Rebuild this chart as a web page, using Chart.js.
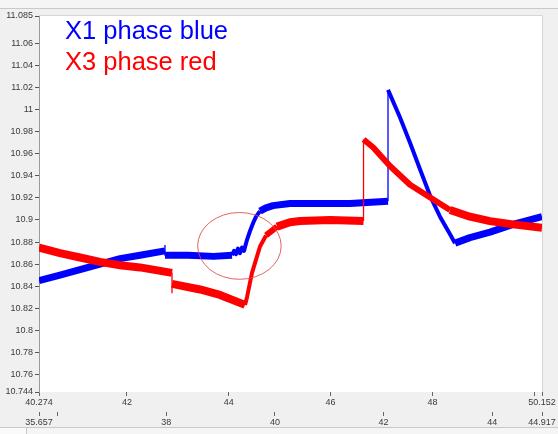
<!DOCTYPE html>
<html>
<head>
<meta charset="utf-8">
<script src="https://cdn.jsdelivr.net/npm/chart.js@4"></script>
<style>
  html, body { margin: 0; padding: 0; background: #f0f0f0; }
  #wrap { position: relative; width: 558px; height: 434px; overflow: hidden; }
  #topBar { position: absolute; left: 0; top: 0; width: 558px; height: 8px; background: #f5f5f5; border-bottom: 1px solid #c9c9c9; }
  #bottomBar { position: absolute; left: 0; top: 427px; width: 558px; height: 7px; background: #f5f5f5; border-top: 1px solid #c9c9c9; }
  #tab { position: absolute; left: 0; top: 428px; width: 26px; height: 6px; border-right: 1px solid #c9c9c9; background: #fafafa; }
  canvas { position: absolute; left: 0; top: 0; }
  .lbl { position: absolute; font-family: "Liberation Sans", Arial, sans-serif; font-size: 25.5px; line-height: 25px; white-space: nowrap; }
</style>
</head>
<body>
<div id="wrap">
  <div id="topBar"></div>
  <div id="bottomBar"></div>
  <div id="tab"></div>
  <canvas id="chart" width="558" height="434"></canvas>
  <div class="lbl" style="left:65px; top:18px; color:#0000ff;">X1 phase blue</div>
  <div class="lbl" style="left:65px; top:49px; color:#ff0000;">X3 phase red</div>
</div>
<script>
// axis ranges and tick labels
const xMin = 40.274, xMax = 50.152;
const x2Min = 35.657, x2Max = 44.917;
const yMin = 10.744, yMax = 11.085;

const xTicks = [40.274, 42, 44, 46, 48, 50, 50.152];
const x2Ticks = [35.657, 36, 38, 40, 42, 44, 44.917];
const yTicks = [10.744, 10.76, 10.78, 10.8, 10.82, 10.84, 10.86, 10.88, 10.9, 10.92,
                10.94, 10.96, 10.98, 11, 11.02, 11.04, 11.06, 11.085];
// ticks drawn without a label (too close to the end labels)
const xUnlabelled = [50];
const x2Unlabelled = [36];

// X1 phase (blue), x on the top axis
const blueX = [40.274, 40.686, 41.079, 41.472, 41.865, 42.258, 42.748, 42.748, 42.748, 43.2, 43.7,
               44.064, 44.104, 44.143, 44.182, 44.221, 44.261, 44.300, 44.359, 44.418, 44.477,
               44.536, 44.614, 44.732, 44.869, 45.203, 45.792, 46.382, 47.128, 47.128,
               47.364, 47.560, 47.756, 47.972, 48.149, 48.346, 48.444, 48.738, 49.131, 49.583, 50.152];
const blueY = [10.845, 10.850, 10.855, 10.860, 10.865, 10.868, 10.872, 10.877, 10.868, 10.868, 10.867,
               10.868, 10.872, 10.869, 10.874, 10.870, 10.875, 10.872, 10.882, 10.890, 10.897,
               10.903, 10.908, 10.911, 10.913, 10.915, 10.915, 10.915, 10.917, 11.018,
               10.993, 10.970, 10.946, 10.920, 10.903, 10.887, 10.879, 10.884, 10.889, 10.896, 10.903];

// X3 phase (red)
const redX = [40.274, 40.686, 41.079, 41.472, 41.865, 42.258, 42.886, 42.886, 42.886, 43.436, 43.829,
              44.320, 44.359, 44.457, 44.536, 44.614, 44.732, 44.948, 45.203, 45.400, 45.989, 46.647, 46.647,
              46.833, 47.167, 47.560, 47.972, 48.346, 48.738, 49.131, 49.583, 50.152];
const redY = [10.875, 10.870, 10.866, 10.862, 10.859, 10.857, 10.852, 10.834, 10.842, 10.837, 10.832,
              10.823, 10.830, 10.852, 10.864, 10.876, 10.886, 10.894, 10.898, 10.899, 10.900, 10.899, 10.973,
              10.966, 10.949, 10.932, 10.920, 10.909, 10.903, 10.899, 10.896, 10.893];

// hand drawn ring around the blue wobble
const ringX = 44.21, ringY = 10.8765, ringRX = 0.82, ringRY = 0.0303;

const toPoints = (xs, ys) => xs.map((x, i) => ({ x: x, y: ys[i] }));

// noisy traces look like a thick band; steep parts thinner, the jumps are single thin lines
function bandWidth(base) {
    return function (ctx) {
        const dx = Math.abs(ctx.p1.x - ctx.p0.x);
        const dy = Math.abs(ctx.p1.y - ctx.p0.y);
        if (dx < 0.5) return 1.3;
        if (dy / dx > 1.3) return 4;
        if (dy / dx > 0.6) return 6;
        return base;
    };
}

const plotFrame = {
    id: 'plotFrame',
    beforeDraw(chart) {
        const a = chart.chartArea, c = chart.ctx;
        c.save();
        c.fillStyle = '#ffffff';
        c.fillRect(a.left, a.top, a.right - a.left, a.bottom - a.top);
        c.strokeStyle = '#d6d6d6';
        c.lineWidth = 1;
        c.beginPath();
        c.moveTo(a.left, a.top - 0.5);
        c.lineTo(a.right + 0.5, a.top - 0.5);
        c.lineTo(a.right + 0.5, a.bottom);
        c.stroke();
        c.restore();
    },
    afterDatasetsDraw(chart) {
        const sx = chart.scales.x, sy = chart.scales.y, c = chart.ctx;
        const cx = sx.getPixelForValue(ringX), cy = sy.getPixelForValue(ringY);
        const rx = sx.getPixelForValue(ringX + ringRX) - cx;
        const ry = cy - sy.getPixelForValue(ringY + ringRY);
        c.save();
        c.strokeStyle = 'rgba(225, 70, 70, 0.85)';
        c.lineWidth = 1;
        c.beginPath();
        c.ellipse(cx, cy, rx, ry, 0, 0, Math.PI * 2);
        c.stroke();
        c.restore();
    }
};

const tickFont = { family: '"Liberation Sans", Arial, sans-serif', size: 9 };
const redColor = 'rgb(255, 0, 0)';
const blueColor = 'rgb(0, 0, 255)';

new Chart(document.getElementById('chart'), {
    type: 'line',
    data: {
        datasets: [{
            label: 'X3 phase red',
            data: toPoints(redX, redY),
            borderColor: redColor,
            borderWidth: 8,
            borderJoinStyle: 'round',
            pointRadius: 0,
            segment: { borderColor: () => redColor, borderJoinStyle: 'round', borderWidth: bandWidth(8) }
        }, {
            label: 'X1 phase blue',
            data: toPoints(blueX, blueY),
            borderColor: blueColor,
            borderWidth: 7,
            borderJoinStyle: 'round',
            pointRadius: 0,
            segment: { borderColor: () => blueColor, borderJoinStyle: 'round', borderWidth: bandWidth(7) }
        }]
    },
    options: {
        responsive: false,
        animation: false,
        parsing: false,
        layout: { padding: { top: 16, right: 16, bottom: 6, left: 0 } },
        plugins: { legend: { display: false }, tooltip: { enabled: false } },
        scales: {
            x: {
                type: 'linear', position: 'bottom', weight: 0,
                min: xMin, max: xMax,
                afterBuildTicks: s => { s.ticks = xTicks.map(v => ({ value: v })); },
                afterFit: s => { s.height = 20; },
                border: { display: false },
                grid: { drawOnChartArea: false, tickLength: 4, color: '#666666' },
                ticks: {
                    autoSkip: false, maxRotation: 0, padding: 1, color: '#3a3a3a', font: tickFont,
                    callback: v => xUnlabelled.includes(v) ? '' : String(v)
                }
            },
            x2: {
                type: 'linear', position: 'bottom', weight: 1,
                min: x2Min, max: x2Max,
                afterBuildTicks: s => { s.ticks = x2Ticks.map(v => ({ value: v })); },
                afterFit: s => { s.height = 16; },
                border: { display: false },
                grid: { drawOnChartArea: false, tickLength: 4, color: '#666666' },
                ticks: {
                    autoSkip: false, maxRotation: 0, padding: 1, color: '#3a3a3a', font: tickFont,
                    callback: v => x2Unlabelled.includes(v) ? '' : String(v)
                }
            },
            y: {
                type: 'linear', position: 'left',
                min: yMin, max: yMax,
                afterBuildTicks: s => { s.ticks = yTicks.map(v => ({ value: v })); },
                afterFit: s => { s.width = 39; },
                border: { display: true, color: '#9a9a9a', width: 1 },
                grid: { drawOnChartArea: false, tickLength: 4, color: '#555555' },
                ticks: {
                    autoSkip: false, padding: 2, color: '#3a3a3a', font: tickFont,
                    callback: v => String(v)
                }
            }
        }
    },
    plugins: [plotFrame]
});
</script>
</body>
</html>
